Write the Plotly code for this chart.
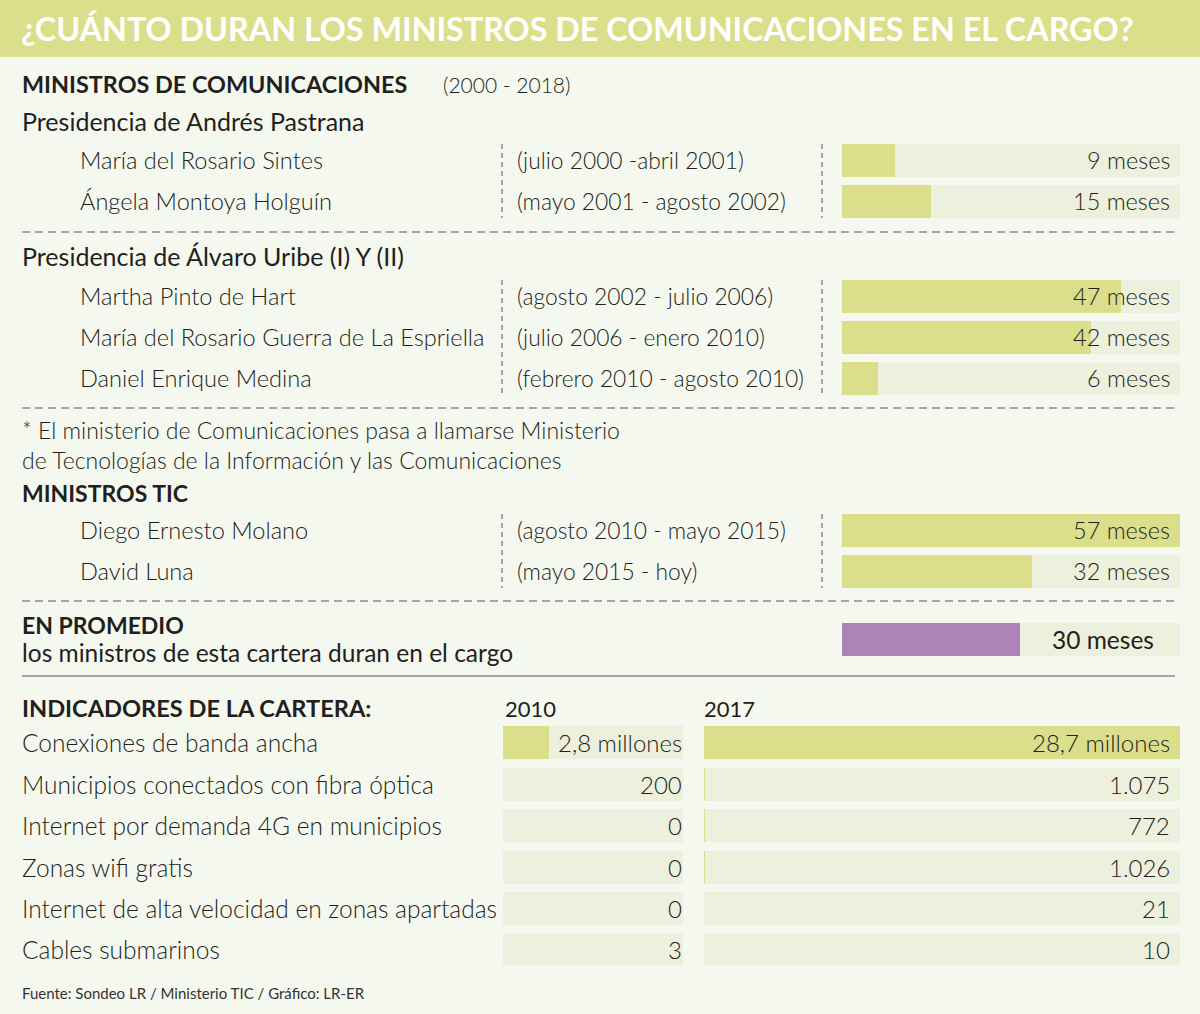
import plotly.graph_objects as go

W, H = 1200, 1014

titulo = "¿CUÁNTO DURAN LOS MINISTROS DE COMUNICACIONES EN EL CARGO?"
fuente = "Fuente: Sondeo LR / Ministerio TIC / Gráfico: LR-ER"
nota = ("* El ministerio de Comunicaciones pasa a llamarse Ministerio<br>"
        "de Tecnologías de la Información y las Comunicaciones")

# ministros y meses en el cargo
ministros = [
    "María del Rosario Sintes",
    "Ángela Montoya Holguín",
    "Martha Pinto de Hart",
    "María del Rosario Guerra de La Espriella",
    "Daniel Enrique Medina",
    "Diego Ernesto Molano",
    "David Luna",
]
periodos = [
    "(julio 2000 -abril 2001)",
    "(mayo 2001 - agosto 2002)",
    "(agosto 2002 - julio 2006)",
    "(julio 2006 - enero 2010)",
    "(febrero 2010 - agosto 2010)",
    "(agosto 2010 - mayo 2015)",
    "(mayo 2015 - hoy)",
]
meses = [9, 15, 47, 42, 6, 57, 32]
promedio_meses = 30

# indicadores de la cartera
indicadores = [
    "Conexiones de banda ancha",
    "Municipios conectados con fibra óptica",
    "Internet por demanda 4G en municipios",
    "Zonas wifi gratis",
    "Internet de alta velocidad en zonas apartadas",
    "Cables submarinos",
]
valores_2010 = [2800000, 200, 0, 0, 0, 3]
valores_2017 = [28700000, 1075, 772, 1026, 21, 10]
etiquetas_2010 = ["2,8 millones", "200", "0", "0", "0", "3"]
etiquetas_2017 = ["28,7 millones", "1.075", "772", "1.026", "21", "10"]

# --- layout (pixeles) ---
FONT = "Lato"
VERDE = "#dbdf8b"
VERDE_CLARO = "#ecf0dc"
MORADO = "#ad84b8"
FONDO = "#f5f8ee"
TXT = "#231f20"

fila_min = [160, 201, 296, 337, 378, 530, 571]
fila_prom = 639
fila_ind = [742, 784, 825, 867, 908, 949]
ALTO = 33

def px(x):
    return x / W

fig = go.Figure()

# barras de ministros
fig.add_trace(go.Bar(x=[max(meses)] * len(meses), y=fila_min, orientation="h",
                     width=ALTO, marker=dict(color=VERDE_CLARO, line_width=0),
                     xaxis="x", yaxis="y", hoverinfo="skip"))
fig.add_trace(go.Bar(x=meses, y=fila_min, orientation="h",
                     width=ALTO, marker=dict(color=VERDE, line_width=0),
                     xaxis="x", yaxis="y", hoverinfo="skip"))
# promedio
fig.add_trace(go.Bar(x=[max(meses)], y=[fila_prom], orientation="h",
                     width=ALTO, marker=dict(color=VERDE_CLARO, line_width=0),
                     xaxis="x", yaxis="y", hoverinfo="skip"))
fig.add_trace(go.Bar(x=[promedio_meses], y=[fila_prom], orientation="h",
                     width=ALTO, marker=dict(color=MORADO, line_width=0),
                     xaxis="x", yaxis="y", hoverinfo="skip"))

# indicadores 2010 y 2017 (misma escala)
escala_2010 = max(valores_2017) * 180 / 476
fig.add_trace(go.Bar(x=[escala_2010] * len(indicadores), y=fila_ind, orientation="h",
                     width=ALTO, marker=dict(color=VERDE_CLARO, line_width=0),
                     xaxis="x2", yaxis="y", hoverinfo="skip"))
fig.add_trace(go.Bar(x=valores_2010, y=fila_ind, orientation="h",
                     width=ALTO, marker=dict(color=VERDE, line_width=0),
                     xaxis="x2", yaxis="y", hoverinfo="skip"))
fig.add_trace(go.Bar(x=[max(valores_2017)] * len(indicadores), y=fila_ind, orientation="h",
                     width=ALTO, marker=dict(color=VERDE_CLARO, line_width=0),
                     xaxis="x3", yaxis="y", hoverinfo="skip"))
fig.add_trace(go.Bar(x=valores_2017, y=fila_ind, orientation="h",
                     width=ALTO, marker=dict(color=VERDE, line_width=0),
                     xaxis="x3", yaxis="y", hoverinfo="skip"))

anots = []

def txt(x, y, s, size=23, weight=300, color=TXT, anchor="left"):
    if anchor == "left":
        x -= 1
    elif anchor == "right":
        x += 1
    anots.append(dict(x=px(x), y=y, xref="paper", yref="y", text=s, showarrow=False,
                      xanchor=anchor, yanchor="middle", borderpad=0, align=anchor,
                      font=dict(family=FONT, size=size, weight=weight, color=color)))

txt(21, 28, titulo, size=32.3, weight=700, color="white")
txt(22, 84, "MINISTROS DE COMUNICACIONES", size=23.4, weight=700)
txt(443, 84, "(2000 - 2018)", size=21)
txt(22, 121, "Presidencia de Andrés Pastrana", size=25, weight=400)
txt(22, 256, "Presidencia de Álvaro Uribe (I) Y (II)", size=25, weight=400)
txt(22, 445, nota, size=23)
txt(22, 493, "MINISTROS TIC", size=23, weight=700)
txt(22, 625, "EN PROMEDIO", size=23, weight=700)
txt(22, 652, "los ministros de esta cartera duran en el cargo", size=24.5, weight=400)
txt(22, 708, "INDICADORES DE LA CARTERA:", size=23.6, weight=700)
txt(505, 708, "2010", size=22, weight=400)
txt(704, 708, "2017", size=22, weight=400)
txt(22, 993, fuente, size=15, weight=400, color="#333333")

for i in range(len(ministros)):
    txt(80, fila_min[i], ministros[i], size=23.6)
    txt(517, fila_min[i], periodos[i], size=22.8)
    txt(1170, fila_min[i], f"{meses[i]} meses", size=23.5, anchor="right")
txt(1103, fila_prom, f"{promedio_meses} meses", size=24.5, weight=400, anchor="center")

for i in range(len(indicadores)):
    txt(22, fila_ind[i], indicadores[i], size=24.5)
    txt(682, fila_ind[i], etiquetas_2010[i], size=24, anchor="right")
    txt(1170, fila_ind[i], etiquetas_2017[i], size=24, anchor="right")

shapes = [dict(type="rect", xref="paper", yref="y", x0=0, x1=1, y0=0, y1=57,
               fillcolor=VERDE, line_width=0, layer="below")]
for yy in [232, 408, 601]:
    shapes.append(dict(type="line", xref="paper", yref="y", x0=px(22), x1=px(1175),
                       y0=yy, y1=yy, line=dict(color="#555", width=1.2, dash="8px,5px")))
shapes.append(dict(type="line", xref="paper", yref="y", x0=px(22), x1=px(1175),
                   y0=676, y1=676, line=dict(color="#8a8a8a", width=1.5)))
for y0, y1 in [(144, 218), (280, 395), (514, 588)]:
    for xx in [502, 822]:
        shapes.append(dict(type="line", xref="paper", yref="y", x0=px(xx), x1=px(xx),
                           y0=y0, y1=y1, line=dict(color="#555", width=1, dash="5px,4px")))

oculto = dict(visible=False, fixedrange=True)
fig.update_layout(
    width=W, height=H,
    margin=dict(l=0, r=0, t=0, b=0),
    paper_bgcolor=FONDO, plot_bgcolor="rgba(0,0,0,0)",
    showlegend=False, barmode="overlay", bargap=0,
    xaxis=dict(domain=[px(842), px(1180)], range=[0, max(meses)], anchor="y", **oculto),
    xaxis2=dict(domain=[px(503), px(683)], range=[0, escala_2010], anchor="y", **oculto),
    xaxis3=dict(domain=[px(704), px(1180)], range=[0, max(valores_2017)], anchor="y", **oculto),
    yaxis=dict(domain=[0, 1], range=[H, 0], **oculto),
    annotations=anots,
    shapes=shapes,
)

fig.write_html("out.html", config={"displayModeBar": False},
               post_script="document.body.style.margin='0';")
